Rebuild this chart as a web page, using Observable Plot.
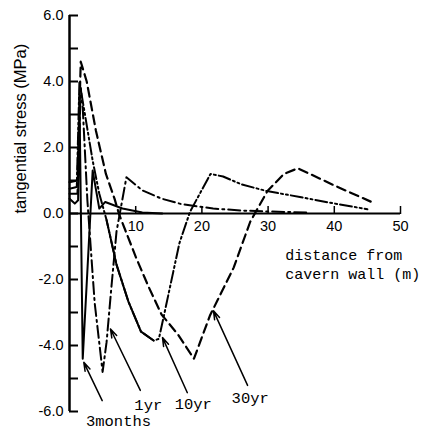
<!DOCTYPE html>
<html>
<head>
<meta charset="utf-8">
<script src="https://cdn.jsdelivr.net/npm/d3@7"></script>
<script src="https://cdn.jsdelivr.net/npm/@observablehq/plot@0.6"></script>
<style>
  html, body { margin: 0; padding: 0; background: #fff; }
  #chart svg { display: block; }
</style>
</head>
<body>
<div id="chart"></div>
<script>
// ---- data ----
const dist3m   = [0, 0.8, 1.3, 1.5, 2.0, 3.5, 4.5, 5.4, 8, 11, 14];
const stress3m = [0.45, 0.3, 0.4, 3.6, -4.4, 1.3, 0.15, 0.35, 0.15, 0.03, 0];

const dist1y   = [0, 1.2, 1.7, 2.0, 2.7, 3.8, 5.0, 5.6, 6.3, 7.1, 8.6, 11, 13.9, 17, 21.7, 26, 30, 36];
const stress1y = [0.6, 0.6, 3.8, 3.2, 0.4, -2.7, -4.8, -3.9, -2.3, -0.55, 1.1, 0.7, 0.45, 0.28, 0.15, 0.09, 0.06, 0.03];

const dist10y   = [0, 1.1, 1.5, 2.5, 3.5, 4.5, 5.6, 7.1, 8.9, 10.8, 12.7, 13.5, 14.3, 15, 16.6, 18.2, 21.3, 23.2, 26, 29.8, 34.8, 39.8, 45];
const stress10y = [0.75, 0.8, 4.0, 2.8, 1.6, 0.6, -0.2, -1.55, -2.67, -3.58, -3.85, -3.8, -3.06, -2.4, -0.9, 0.05, 1.2, 1.12, 0.88, 0.68, 0.5, 0.31, 0.13];

const dist30y   = [0, 1.2, 1.7, 2.6, 4, 5.5, 6.8, 7.5, 10.1, 11.9, 13.9, 16.4, 18.8, 21.2, 24.8, 27.3, 29.9, 32.4, 34.5, 40, 45.5];
const stress30y = [0.95, 1.0, 4.6, 4.0, 2.5, 1.2, 0.45, -0.03, -1.36, -2.2, -3.06, -3.67, -4.4, -3.1, -1.64, -0.25, 0.68, 1.2, 1.37, 0.85, 0.36];

const yTicksMinor = [-6, -5, -4, -3, -2, -1, 0, 1, 2, 3, 4, 5, 6];
const yTickLabels = [-6, -4, -2, 0, 2, 4, 6];
const xTickValues = [10, 20, 30, 40, 50];

const seriesNames = ["3months", "1yr", "10yr", "30yr"];
const labelX = [7.4, 11.9, 18.7, 27.3];
const labelY = [-6.3, -5.79, -5.76, -5.58];
const arrowTailX = [4.94, 10.7, 17.8, 26.9];
const arrowTailY = [-5.67, -5.36, -5.43, -5.21];
const arrowHeadX = [2.16, 6.19, 14.05, 21.75];
const arrowHeadY = [-4.51, -3.5, -3.76, -2.95];

const yTitle = "tangential stress (MPa)";
const xTitle = "distance from\ncavern wall (m)";
const xTitleX = 32.6, xTitleY = -0.98;

// ---- layout ----
const W = 425, H = 431;
const mL = 69, mR = 25, mT = 15, mB = 20;
const yDomain = [-6, 6];
const y0px = mT + (H - mT - mB) * (yDomain[1] - 0) / (yDomain[1] - yDomain[0]);

const rows = (xs, ys) => xs.map((x, i) => ({x, y: ys[i]}));
const s3m = rows(dist3m, stress3m);
const s1y = rows(dist1y, stress1y);
const s10y = rows(dist10y, stress10y);
const s30y = rows(dist30y, stress30y);
const s10ySolid = s10y.filter(d => d.x >= 5.6 && d.x <= 12.7);

const annot = seriesNames.map((name, i) => ({
  name, lx: labelX[i], ly: labelY[i],
  x1: arrowTailX[i], y1: arrowTailY[i], x2: arrowHeadX[i], y2: arrowHeadY[i]
}));

const sans = "'Liberation Sans', Arial, sans-serif";
const mono = "'Liberation Mono', 'Courier New', monospace";

const chart = Plot.plot({
  width: W, height: H,
  marginLeft: mL, marginRight: mR, marginTop: mT, marginBottom: mB,
  x: {domain: [0, 50]},
  y: {domain: yDomain},
  style: {background: "#fff", color: "#000", fontFamily: sans, overflow: "visible"},
  marks: [
    // axis lines
    Plot.ruleX([0], {stroke: "#000", strokeWidth: 2.5}),
    Plot.ruleY([0], {stroke: "#000", strokeWidth: 2}),
    // y ticks pointing inward
    Plot.axisY(yTicksMinor, {anchor: "left", tickSize: 9, dx: 9, fill: "none", strokeWidth: 2, label: null}),
    Plot.axisY(yTickLabels, {anchor: "left", tickSize: 0, tickPadding: 6, stroke: "none",
      tickFormat: d => d.toFixed(1), fontSize: 14.5, fontFamily: sans, label: null}),
    // x ticks pointing up from the zero line
    Plot.axisX(xTickValues, {anchor: "top", tickSize: 8, dy: y0px - mT, fill: "none", strokeWidth: 1.5, label: null}),
    Plot.axisX(xTickValues, {anchor: "bottom", tickSize: 0, tickPadding: 7, dy: -(H - mB - y0px), stroke: "none",
      fontSize: 14.5, fontFamily: sans, label: null}),
    // curves
    Plot.line(s3m, {x: "x", y: "y", stroke: "#000", strokeWidth: 2}),
    Plot.line(s1y, {x: "x", y: "y", stroke: "#000", strokeWidth: 2, strokeDasharray: "12,4,2,4"}),
    Plot.line(s10y, {x: "x", y: "y", stroke: "#000", strokeWidth: 2, strokeDasharray: "12,3,2,3,2,3"}),
    Plot.line(s10ySolid, {x: "x", y: "y", stroke: "#000", strokeWidth: 2}),
    Plot.line(s30y, {x: "x", y: "y", stroke: "#000", strokeWidth: 2.2, strokeDasharray: "9,5"}),
    // annotations
    Plot.arrow(annot, {x1: "x1", y1: "y1", x2: "x2", y2: "y2", stroke: "#000", strokeWidth: 1.5, headLength: 9, headAngle: 35}),
    Plot.text(annot, {x: "lx", y: "ly", text: "name", fontFamily: mono, fontSize: 15.5, fill: "#000"}),
    Plot.text([xTitle], {x: xTitleX, y: xTitleY, text: d => d, textAnchor: "start", lineAnchor: "top",
      lineHeight: 1.3, fontFamily: mono, fontSize: 15, fill: "#000"}),
    Plot.text([yTitle], {frameAnchor: "left", dx: -49, rotate: -90, text: d => d,
      fontFamily: sans, fontSize: 16.5, fill: "#000"})
  ]
});
document.getElementById("chart").appendChild(chart);
</script>
</body>
</html>
